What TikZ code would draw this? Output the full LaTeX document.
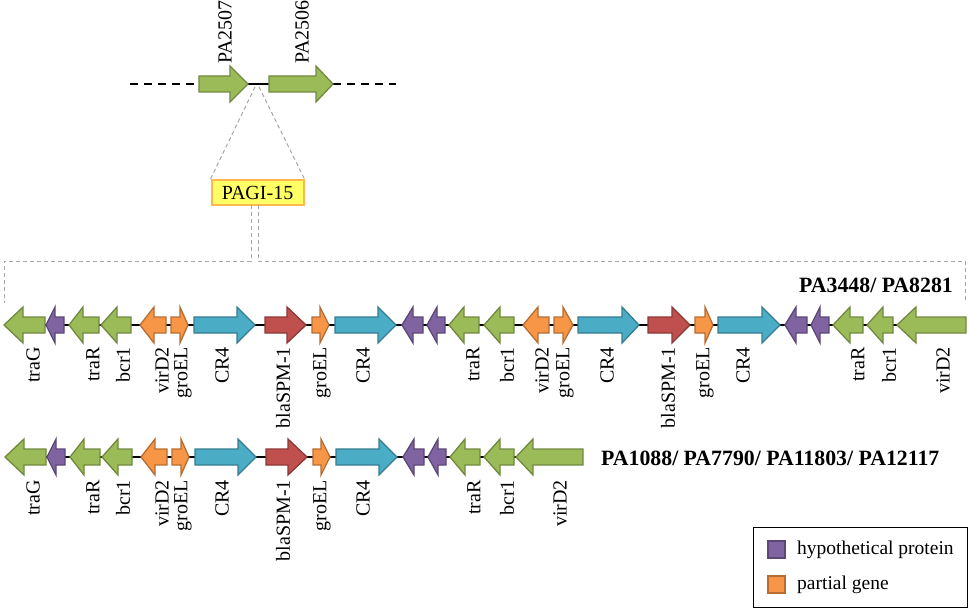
\documentclass[tikz,border=0pt]{standalone}
\usepackage{fontspec}
\setmainfont{Liberation Serif}
\definecolor{gfill}{HTML}{9BBB59}\definecolor{gline}{HTML}{71893F}
\definecolor{pfill}{HTML}{8064A2}\definecolor{pline}{HTML}{5C4776}
\definecolor{ofill}{HTML}{F79646}\definecolor{oline}{HTML}{B66D31}
\definecolor{bfill}{HTML}{4BACC6}\definecolor{bline}{HTML}{357D91}
\definecolor{rfill}{HTML}{C0504D}\definecolor{rline}{HTML}{8C3836}
\definecolor{boxfill}{HTML}{FFFF66}\definecolor{boxline}{HTML}{FFB84D}
\definecolor{guide}{HTML}{A6A6A6}
\tikzset{
  gG/.style={fill=gfill,draw=gline,line width=1.3pt,line join=miter},
  gP/.style={fill=pfill,draw=pline,line width=1.3pt,line join=miter},
  gO/.style={fill=ofill,draw=oline,line width=1.3pt,line join=miter},
  gB/.style={fill=bfill,draw=bline,line width=1.3pt,line join=miter},
  gR/.style={fill=rfill,draw=rline,line width=1.3pt,line join=miter},
  backbone/.style={draw=black,line width=1.4pt},
  guideline/.style={draw=guide,line width=1pt,dash pattern=on 4pt off 3pt},
  genelbl/.style={rotate=90,anchor=east,inner sep=0pt,font=\fontsize{20}{23}\selectfont},
  toplbl/.style={rotate=90,anchor=west,inner sep=0pt,font=\fontsize{20}{23}\selectfont},
  strain/.style={inner sep=0pt,font=\fontsize{21.8}{25}\selectfont\bfseries},
  legtxt/.style={anchor=west,inner sep=0pt,font=\fontsize{19.5}{22}\selectfont},
}
% #1 style, #2 tail x, #3 head base x, #4 tip x, #5 centre y
\newcommand\genearrow[5]{%
  \draw[#1] (#2,{#5-8}) -- (#3,{#5-8}) -- (#3,{#5-18}) -- (#4,#5) -- (#3,{#5+18}) -- (#3,{#5+8}) -- (#2,{#5+8}) -- cycle;}
\begin{document}
\begin{tikzpicture}[x=1pt,y=-1pt]
\useasboundingbox (0,0) rectangle (970,610);

% ---------- top: chromosome locus ----------
\draw[black,line width=1.4pt,dash pattern=on 8pt off 6pt] (130,84) -- (199,84);
\draw[black,line width=1.4pt,dash pattern=on 8pt off 6pt] (333,84) -- (396,84);
\draw[backbone] (248,84) -- (269,84);
\genearrow{gG}{199}{230}{248}{84}
\genearrow{gG}{269}{316}{333}{84}
\node[toplbl] (pa2507) at (225,64) {PA2507};
\node[toplbl] (pa2506) at (302,64) {PA2506};

\coordinate (gapL) at (255,87);
\coordinate (gapR) at (259,87);
\node[fill=boxfill,draw=boxline,line width=2pt,minimum width=92pt,minimum height=25pt,inner sep=0pt,
      font=\fontsize{20}{23}\selectfont] (pagi) at (257.5,192.5) {PAGI-15};
\draw[guideline] (gapL) -- (pagi.north west);
\draw[guideline] (gapR) -- (pagi.north east);

\coordinate (bl) at (251,205);
\coordinate (br) at (258,205);
\coordinate (bl1) at (251,261);
\coordinate (br1) at (258,261);
\coordinate (bl2) at (4,261);
\coordinate (br2) at (965,261);
\coordinate (bl3) at (4,303);
\coordinate (br3) at (965,303);
\draw[guideline] (bl) -- (bl1) -- (bl2) -- (bl3);
\draw[guideline] (br) -- (br1) -- (br2) -- (br3);

% ---------- row 1 ----------
\draw[backbone] (4,325) -- (966,325);
\foreach \t/\h/\p/\s in {45/23/4/gG,64/55/46/gP,99/83/69/gG,131/117/101/gG,166/154/140/gO,
  171/180/188/gO,194/237/255/gB,265/287/306/gR,312/320/329/gO,335/378/396/gB,
  423/413/402/gP,445/437/427/gP,479/464/449/gG,514/500/484/gG,549/538/523/gO,
  554/563/573/gO,578/622/639/gB,648/672/690/gR,695/705/713/gO,718/762/780/gB,
  807/796/785/gP,829/820/811/gP,863/850/833/gG,893/883/867/gG,966/916/897/gG}
  {\genearrow{\s}{\t}{\h}{\p}{325}}
\foreach \x/\n [count=\i] in {33/traG,93/traR,123/bcr1,162/virD2,183/groEL,222/CR4,283/blaSPM-1,
  322/groEL,363/CR4,473/traR,507/bcr1,542/virD2,565/groEL,607/CR4,668/blaSPM-1,705/groEL,
  743/CR4,858/traR,889/bcr1,943/virD2}
  {\node[genelbl] (a\i) at (\x,347) {\n};}
\node[strain,anchor=east] (s1) at (953,285) {PA3448/ PA8281};

% ---------- row 2 ----------
\draw[backbone] (5,457) -- (583,457);
\foreach \t/\h/\p/\s in {46/24/5/gG,65/56/47/gP,100/84/70/gG,132/118/102/gG,167/155/141/gO,
  172/181/189/gO,195/238/256/gB,266/288/307/gR,313/321/330/gO,336/379/397/gB,
  424/414/403/gP,446/438/428/gP,480/465/450/gG,514/500/484/gG,583/533/516/gG}
  {\genearrow{\s}{\t}{\h}{\p}{457}}
\foreach \x/\n [count=\i] in {33/traG,93/traR,123/bcr1,162/virD2,183/groEL,222/CR4,283/blaSPM-1,
  322/groEL,363/CR4,474/traR,507/bcr1,560/virD2}
  {\node[genelbl] (b\i) at (\x,480) {\n};}
\node[strain,anchor=west] (s2) at (601,458) {PA1088/ PA7790/ PA11803/ PA12117};

% ---------- legend ----------
\node[draw=black,line width=1pt,minimum width=214pt,minimum height=80pt,inner sep=0pt] (legend) at (860,567) {};
\draw[gP] (768,541) rectangle (785,558);
\draw[gO] (768,576) rectangle (785,593);
\node[legtxt] (lh) at (797,550) {hypothetical protein};
\node[legtxt] (lp) at (797,585) {partial gene};
\end{tikzpicture}
\end{document}
